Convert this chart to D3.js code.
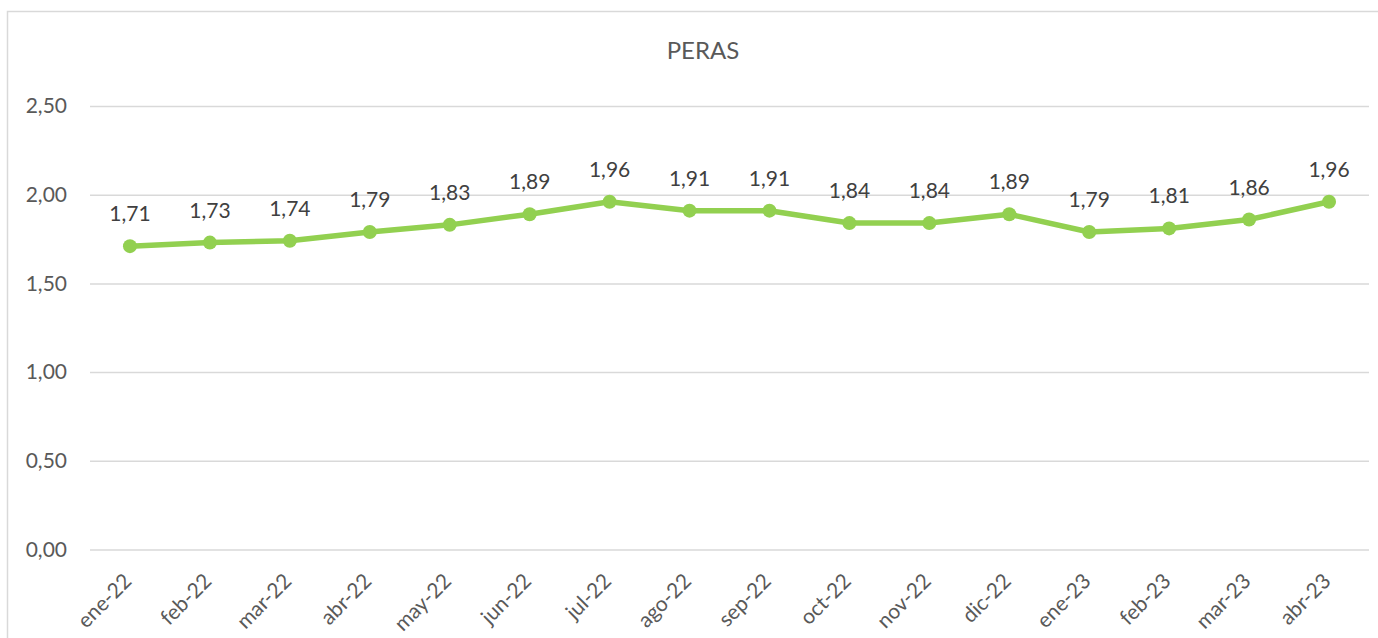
<!DOCTYPE html>
<html>
<head>
<meta charset="utf-8">
<script src="https://cdn.jsdelivr.net/npm/d3@7"></script>
<style>
  html, body { margin: 0; padding: 0; background: #fff; }
  svg { display: block; font-family: Lato, "Open Sans", sans-serif; }
</style>
</head>
<body>
<svg id="chart" width="1378" height="638"></svg>
<script>
// Monthly pear prices
const months = ["ene-22","feb-22","mar-22","abr-22","may-22","jun-22","jul-22","ago-22",
                "sep-22","oct-22","nov-22","dic-22","ene-23","feb-23","mar-23","abr-23"];
const prices = [1.71,1.73,1.74,1.79,1.83,1.89,1.96,1.91,1.91,1.84,1.84,1.89,1.79,1.81,1.86,1.96];
const yTicks = [0, 0.5, 1, 1.5, 2, 2.5];
const title = "PERAS";

const fmt = v => d3.format(".2f")(v).replace(".", ",");

const svg = d3.select("#chart");
const W = 1378, H = 638;
const m = { left: 90, right: 9, top: 106, bottom: 88.5 };
const FONT = "Lato, 'Open Sans', sans-serif";

// chart frame
svg.append("rect")
  .attr("x", 7.5).attr("y", 11.5)
  .attr("width", 1380).attr("height", 640)
  .attr("fill", "#fff").attr("stroke", "#d9d9d9").attr("stroke-width", 1.5);

const x = d3.scaleBand().domain(months).range([m.left, W - m.right]);
const y = d3.scaleLinear().domain([0, 2.5]).range([H - m.bottom, m.top]);

// gridlines + y labels
const yAxis = d3.axisLeft(y).tickValues(yTicks).tickFormat(fmt)
  .tickSize(-(W - m.right - m.left)).tickPadding(23);
const gy = svg.append("g").attr("transform", `translate(${m.left},0)`).call(yAxis);
gy.select(".domain").remove();
gy.selectAll(".tick line").attr("stroke", "#d9d9d9").attr("stroke-width", 1.5);
gy.selectAll(".tick text").attr("fill", "#595959").attr("font-size", 21)
  .attr("font-family", FONT);

// x labels, rotated
const xAxis = d3.axisBottom(x).tickSize(0).tickPadding(0);
const gx = svg.append("g").attr("transform", `translate(0,${H - m.bottom})`).call(xAxis);
gx.select(".domain").remove();
gx.selectAll(".tick text")
  .attr("fill", "#595959").attr("font-size", 21)
  .attr("font-family", FONT)
  .attr("text-anchor", "end")
  .attr("dy", null).attr("y", 0)
  .attr("transform", "translate(3,33) rotate(-45)");

// line
const line = d3.line().x((d, i) => x(months[i]) + x.bandwidth() / 2).y(d => y(d));
svg.append("path").datum(prices)
  .attr("d", line).attr("fill", "none")
  .attr("stroke", "#92d050").attr("stroke-width", 5.5).attr("stroke-linejoin", "round");

svg.append("g").selectAll("circle").data(prices).join("circle")
  .attr("cx", (d, i) => x(months[i]) + x.bandwidth() / 2)
  .attr("cy", d => y(d)).attr("r", 7).attr("fill", "#92d050");

// value labels
svg.append("g").selectAll("text").data(prices).join("text")
  .attr("x", (d, i) => x(months[i]) + x.bandwidth() / 2)
  .attr("y", d => y(d) - 25)
  .attr("text-anchor", "middle").attr("font-size", 21).attr("fill", "#404040")
  .attr("font-family", FONT)
  .text(fmt);

// title
svg.append("text").attr("x", 703).attr("y", 59)
  .attr("text-anchor", "middle").attr("font-size", 24).attr("fill", "#595959")
  .attr("font-family", FONT)
  .text(title);
</script>
</body>
</html>
